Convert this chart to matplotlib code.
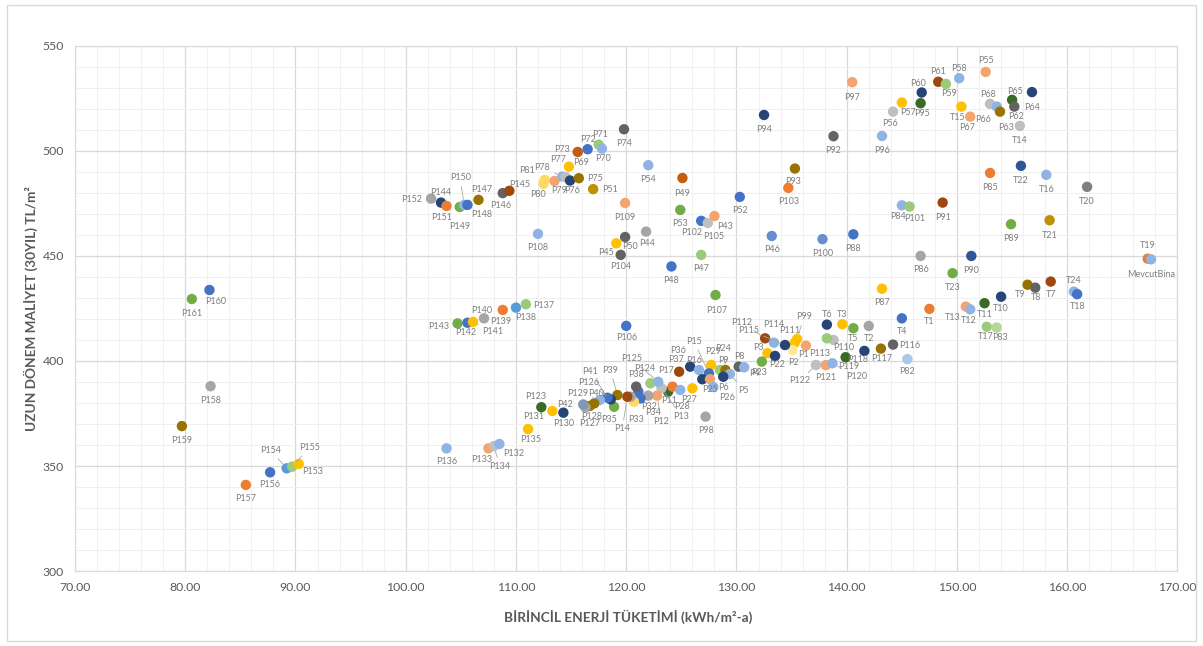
import matplotlib.pyplot as plt
from matplotlib.ticker import MultipleLocator, FormatStrFormatter
from matplotlib.patches import Rectangle

plt.rcParams['font.family'] = ['Lato', 'DejaVu Sans']

# alternatives: name, primary energy (kWh/m2-a), long-term cost (TL/m2)
names = ['P160', 'P161', 'P158', 'P159', 'P154', 'P155', 'P153', 'P156', 'P157',
         'P152', 'P144', 'P151', 'P149', 'P150', 'P148', 'P147', 'P146', 'P145',
         'P81', 'P80', 'P79', 'P78', 'P77', 'P69', 'P76', 'P75', 'P51', 'P73',
         'P72', 'P71', 'P70', 'P74', 'P54', 'P109', 'P108', 'P44', 'P50', 'P45',
         'P104', 'P48', 'P49', 'P53', 'P102', 'P105', 'P43', 'P47', 'P107', 'P106',
         'P52', 'P94', 'P92', 'P97', 'P96', 'P56', 'P57', 'P95', 'P60', 'P61',
         'P59', 'P58', 'P55', 'T15', 'P67', 'P68', 'P66', 'P63', 'P65', 'P62',
         'P64', 'T14', 'P93', 'P103', 'P85', 'T22', 'T16', 'P84', 'P101', 'P91',
         'P89', 'T21', 'T20', 'P46', 'P100', 'P88', 'P86', 'P90', 'T23', 'P87',
         'T19', 'MevcutBina', 'T9', 'T8', 'T7', 'T24', 'T18', 'T10', 'T11', 'T13',
         'T12', 'T1', 'T17', 'P83', 'T4', 'T6', 'T3', 'T5', 'T2', 'P116', 'P117',
         'P118', 'P119', 'P110', 'P113', 'P82', 'P121', 'P120', 'P122', 'P1', 'P99',
         'P111', 'P2', 'P112', 'P114', 'P115', 'P3', 'P22', 'P23', 'P9', 'P24',
         'P8', 'P4', 'P5', 'P6', 'P29', 'P36', 'P16', 'P15', 'P37', 'P7', 'P25',
         'P27', 'P26', 'P11', 'P17', 'P28', 'P13', 'P12', 'P34', 'P124', 'P125',
         'P32', 'P10', 'P38', 'P33', 'P19', 'P14', 'P39', 'P35', 'P126', 'P41',
         'P129', 'P40', 'P127', 'P128', 'P42', 'P123', 'P131', 'P130', 'P135',
         'P136', 'P133', 'P134', 'P132', 'P143', 'P142', 'P141', 'P140', 'P139',
         'P138', 'P137', 'P98']

energy = [82.2, 80.6, 82.3, 79.7, 89.2, 89.7, 90.3, 87.7, 85.5,
          102.3, 103.2, 103.7, 104.9, 105.3, 105.6, 106.6, 108.8, 109.4,
          112.6, 112.5, 113.5, 114.2, 114.5, 114.8, 114.9, 115.7, 117.0, 115.6,
          116.5, 117.5, 117.8, 119.8, 122.0, 119.9, 112.0, 121.8, 119.9, 119.1,
          119.5, 124.1, 125.1, 124.9, 126.8, 127.4, 128.0, 126.8, 128.1, 120.0,
          130.3, 132.5, 138.8, 140.5, 143.2, 144.2, 145.0, 146.7, 146.8, 148.3,
          149.0, 150.2, 152.6, 150.4, 151.2, 153.0, 153.6, 153.9, 155.0, 155.2,
          156.8, 155.7, 135.3, 134.7, 153.0, 155.8, 158.1, 145.0, 145.7, 148.7,
          154.9, 158.4, 161.8, 133.2, 137.8, 140.6, 146.7, 151.3, 149.6, 143.2,
          167.3, 167.6, 156.4, 157.1, 158.5, 160.6, 160.9, 154.0, 152.5, 150.8,
          151.2, 147.5, 152.7, 153.6, 145.0, 138.2, 139.6, 140.6, 142.0, 144.2, 143.1,
          141.6, 139.9, 138.8, 138.2, 145.5, 138.1, 138.7, 137.2, 136.3, 135.5,
          135.3, 135.1, 132.6, 133.4, 134.4, 132.8, 133.5, 132.3, 128.5, 129.0,
          130.2, 130.7, 129.4, 128.8, 127.7, 125.8, 126.6, 127.5, 124.8, 126.9, 127.6,
          126.0, 127.9, 123.8, 124.2, 124.9, 123.2, 122.8, 122.0, 122.2, 122.9,
          121.3, 121.1, 120.9, 120.7, 120.4, 120.1, 119.2, 118.9, 118.6, 118.3,
          117.6, 117.1, 116.7, 116.3, 116.1, 112.3, 113.3, 114.3, 111.1,
          103.7, 107.5, 108.0, 108.5, 104.7, 105.6, 106.1, 107.1, 108.8,
          110.0, 110.9, 127.2]

cost = [433.8, 429.5, 388.0, 369.0, 348.9, 349.7, 351.0, 347.0, 341.0,
        477.3, 475.4, 473.8, 473.3, 474.3, 474.3, 476.7, 479.9, 481.0,
        486.2, 484.3, 485.7, 487.8, 487.6, 492.5, 485.9, 487.0, 481.8, 499.5,
        500.8, 503.0, 501.1, 510.3, 493.2, 475.2, 460.5, 461.6, 459.0, 456.0,
        450.5, 445.0, 487.1, 471.9, 466.7, 465.7, 469.0, 450.5, 431.4, 416.7,
        478.1, 517.1, 507.0, 532.7, 507.1, 518.7, 523.0, 522.7, 527.8, 532.9,
        531.9, 534.6, 537.6, 521.1, 516.3, 522.4, 521.1, 518.7, 524.3, 521.1,
        528.0, 511.9, 491.6, 482.4, 489.5, 492.9, 488.6, 474.1, 473.5, 475.4,
        465.1, 467.0, 482.9, 459.5, 458.0, 460.3, 450.0, 450.0, 441.8, 434.4,
        448.7, 448.4, 436.3, 434.9, 437.8, 433.0, 431.8, 430.6, 427.5, 425.9,
        424.6, 424.8, 416.3, 415.9, 420.3, 417.3, 417.5, 415.6, 416.7, 407.8, 405.9,
        404.8, 401.8, 410.0, 410.8, 400.9, 398.0, 398.9, 398.1, 407.3, 410.5,
        408.7, 405.2, 410.8, 408.7, 407.6, 403.7, 402.4, 399.7, 395.7, 395.7,
        397.3, 397.0, 393.8, 392.5, 398.1, 397.3, 395.7, 394.1, 394.9, 391.3, 391.3,
        387.0, 387.6, 385.4, 387.8, 386.2, 387.1, 383.5, 383.5, 389.4, 390.1,
        382.2, 385.4, 387.8, 380.6, 383.0, 383.0, 383.8, 378.2, 381.7, 382.5,
        381.4, 379.8, 378.6, 377.9, 379.3, 378.0, 376.2, 375.4, 367.6,
        358.4, 358.4, 359.5, 360.5, 417.9, 418.2, 418.6, 420.3, 424.3,
        425.4, 427.0, 373.5]

# marker colours (Excel-like palette)
pal = {'b': '#4472C4', 'o': '#ED7D31', 'g': '#A5A5A5', 'y': '#FFC000', 'lb': '#5B9BD5',
       'gr': '#70AD47', 'db': '#264478', 'br': '#9E480E', 'dg': '#636363', 'ol': '#997300',
       'b2': '#698ED0', 'o2': '#F4A46E', 'g2': '#BFBFBF', 'y2': '#FFD966', 'lb2': '#8FB4E3',
       'gr2': '#9BCB7A', 'dgn': '#3A6B25', 'ob': '#C55A11', 'mb': '#2F5597', 'ol2': '#BF9000',
       'g3': '#7F7F7F', 'gr3': '#B4D79B', 'lb3': '#A9C8EA', 'y3': '#FFE699', 'gb': '#8497B0'}
ckeys = ['b', 'gr', 'g', 'ol', 'lb', 'gr2', 'y', 'b', 'o',
         'g', 'db', 'o', 'gr', 'lb2', 'b', 'ol', 'dg', 'br',
         'y2', 'y2', 'o2', 'lb2', 'g2', 'y', 'db', 'ol', 'ol2', 'ob',
         'b', 'gr2', 'lb2', 'dg', 'lb2', 'o2', 'lb2', 'g', 'dg', 'y',
         'dg', 'b', 'ob', 'gr', 'b', 'g2', 'o2', 'gr2', 'gr', 'b',
         'b', 'db', 'dg', 'o2', 'lb2', 'g2', 'y', 'dgn', 'db', 'br',
         'gr2', 'lb2', 'o2', 'y', 'o2', 'g2', 'lb2', 'ol', 'dgn', 'dg',
         'db', 'g2', 'ol', 'o', 'o', 'mb', 'lb2', 'lb2', 'gr2', 'br',
         'gr', 'ol2', 'g3', 'b2', 'b2', 'b', 'g', 'mb', 'gr', 'y',
         'o', 'lb2', 'ol', 'dg', 'br', 'lb2', 'b', 'db', 'dgn', 'o2',
         'lb2', 'o', 'gr2', 'gr3', 'b', 'db', 'y', 'gr', 'g', 'dg', 'ol',
         'db', 'dgn', 'g2', 'gr2', 'lb3', 'o2', 'lb2', 'g2', 'o2', 'y',
         'y', 'y3', 'br', 'lb2', 'db', 'y', 'db', 'gr', 'gr2', 'ol',
         'dg', 'lb2', 'lb2', 'db', 'y', 'db', 'lb2', 'b', 'br', 'db', 'o2',
         'y', 'lb2', 'dgn', 'o', 'lb2', 'g2', 'o2', 'g', 'gr2', 'lb2',
         'b', 'b', 'dg', 'y2', 'g', 'br', 'ol', 'gr', 'db', 'b',
         'lb2', 'ol', 'ol', 'g', 'gb', 'dgn', 'y', 'db', 'y',
         'lb2', 'o2', 'g2', 'lb2', 'gr', 'b', 'y', 'g', 'o',
         'lb', 'gr2', 'g']

# label offsets in pixels (dx right, dy down); default is just below the marker
offsets = {'P160': (6, 12), 'P154': (-16, -18), 'P155': (17, -19), 'P153': (14, 8),
           'P156': (0, 12), 'P152': (-19, 1), 'P144': (0, -10), 'P151': (-5, 12),
           'P149': (0, 20), 'P150': (-4, -27), 'P148': (14, 10), 'P147': (3, -10),
           'P146': (-2, 12), 'P145': (10, -6), 'P81': (-18, -9), 'P80': (-6, 11),
           'P79': (5, 10), 'P78': (-20, -9), 'P77': (-8, -17), 'P69': (12, -4),
           'P76': (2, 10), 'P75': (16, 0), 'P51': (17, 0), 'P73': (-16, -2),
           'P72': (0, -10), 'P71': (1, -10), 'P70': (1, 10), 'P44': (1, 12),
           'P50': (5, 9), 'P45': (-10, 9), 'P104': (0, 12), 'P49': (0, 15),
           'P102': (-10, 12), 'P105': (6, 14), 'P43': (11, 10), 'P107': (1, 15),
           'P106': (0, 12), 'P94': (0, 15), 'P97': (0, 15), 'P96': (0, 15),
           'P56': (-3, 12), 'P57': (6, 10), 'P95': (1, 10), 'P60': (-4, -9),
           'P61': (0, -10), 'P59': (3, 10), 'P58': (0, -10), 'P55': (0, -11),
           'T15': (-4, 11), 'P67': (-3, 11), 'P68': (-2, -9), 'P66': (-14, 13),
           'P63': (6, 16), 'P65': (3, -8), 'P62': (2, 10), 'P64': (0, 15),
           'T14': (0, 15), 'P93': (-2, 13), 'P85': (0, 15), 'T22': (0, 15),
           'T16': (0, 15), 'P84': (-4, 11), 'P101': (5, 12), 'P91': (0, 15),
           'T21': (0, 15), 'T20': (0, 15), 'P90': (0, 15), 'T19': (0, -13),
           'MevcutBina': (0, 15), 'T9': (-7, 10), 'T8': (1, 10), 'T7': (0, 13),
           'T24': (0, -11), 'T18': (0, 12), 'T10': (0, 12), 'T11': (0, 11),
           'T13': (-13, 11), 'T12': (-1, 11), 'T1': (0, 13), 'T17': (-1, 10),
           'P83': (3, 10), 'T4': (0, 13), 'T6': (0, -10), 'T3': (0, -10),
           'T5': (0, 10), 'T2': (0, 13), 'P116': (17, 1), 'P117': (1, 10),
           'P118': (-7, 9), 'P119': (3, 9), 'P110': (10, 8), 'P113': (-7, 15),
           'P82': (0, 12), 'P121': (0, 12), 'P120': (24, 13), 'P122': (-16, 16),
           'P1': (-2, 9), 'P99': (7, -22), 'P111': (-5, -12), 'P2': (1, 12),
           'P112': (-23, -16), 'P114': (0, -18), 'P115': (-36, -15), 'P3': (-9, -6),
           'P22': (2, 9), 'P23': (-3, 11), 'P9': (3, -10), 'P24': (-2, -22),
           'P8': (1, -10), 'P4': (10, 6), 'P5': (14, 16), 'P6': (0, 11),
           'P29': (2, -13), 'P36': (-12, -16), 'P16': (-5, -10), 'P15': (-15, -32),
           'P37': (-3, -12), 'P25': (0, 10), 'P27': (-3, 11), 'P26': (14, 10),
           'P11': (1, 9), 'P17': (-6, -16), 'P28': (2, 17), 'P13': (20, 28),
           'P12': (4, 26), 'P34': (5, 17), 'P124': (-6, -15), 'P125': (-27, -23),
           'P32': (9, 8), 'P38': (0, -12), 'P33': (2, 18), 'P14': (-5, 32),
           'P39': (-7, -25), 'P35': (-5, 13), 'P126': (-22, -17), 'P41': (-17, -26),
           'P129': (-22, -7), 'P40': (2, -10), 'P127': (0, 18), 'P128': (6, 9),
           'P42': (-18, 0), 'P123': (-6, -11), 'P131': (-19, 6), 'P130': (0, 11),
           'P135': (3, 10), 'P136': (0, 13), 'P133': (-7, 11), 'P134': (6, 20),
           'P132': (14, 10), 'P143': (-19, 3), 'P142': (-2, 10), 'P141': (20, 10),
           'P140': (-2, -8), 'P139': (-2, 12), 'P138': (10, 10), 'P137': (18, 1)}
hidden = {'P7', 'P10', 'P19'}

fig = plt.figure(figsize=(12.03, 6.46), dpi=100)
ax = fig.add_axes([0.0623, 0.116, 0.9165, 0.813])

ax.scatter(energy, cost, s=56, c=[pal[k] for k in ckeys], edgecolors='none', zorder=3)

for n, xv, yv in zip(names, energy, cost):
    if n in hidden:
        continue
    dx, dy = offsets.get(n, (0, 14))
    arrow = None
    if dx * dx + dy * dy > 420:
        arrow = dict(arrowstyle='-', color='#A6A6A6', lw=0.6, shrinkA=1, shrinkB=4)
    ax.annotate(n, (xv, yv), xytext=(dx, -dy), textcoords='offset pixels',
                ha='center', va='center', fontsize=6.5, color='#7F7F7F',
                arrowprops=arrow, zorder=4)

ax.set_xlim(70, 170)
ax.set_ylim(300, 550)
ax.xaxis.set_major_locator(MultipleLocator(10))
ax.xaxis.set_minor_locator(MultipleLocator(2))
ax.yaxis.set_major_locator(MultipleLocator(50))
ax.yaxis.set_minor_locator(MultipleLocator(10))
ax.xaxis.set_major_formatter(FormatStrFormatter('%.2f'))
ax.grid(which='major', color='#D9D9D9', lw=0.9, zorder=0)
ax.grid(which='minor', color='#F0F0F0', lw=0.7, zorder=0)
ax.set_axisbelow(True)
ax.tick_params(which='both', length=0, labelsize=8.8, labelcolor='#595959', pad=8)
for sp in ax.spines.values():
    sp.set_color('#D9D9D9')

fig.text(0.522, 0.045, 'BİRİNCİL ENERJİ TÜKETİMİ (kWh/m²-a)', ha='center', va='center',
         fontsize=9.8, fontweight='bold', color='#595959')
fig.text(0.026, 0.5225, 'UZUN DÖNEM MALİYET (30YIL) TL/m²', ha='center', va='center',
         rotation=90, fontsize=9.8, fontweight='bold', color='#595959')

fig.patches.append(Rectangle((0.006, 0.008), 0.988, 0.985, transform=fig.transFigure,
                             fill=False, ec='#D9D9D9', lw=1))

fig.savefig('out.png', dpi=100)
